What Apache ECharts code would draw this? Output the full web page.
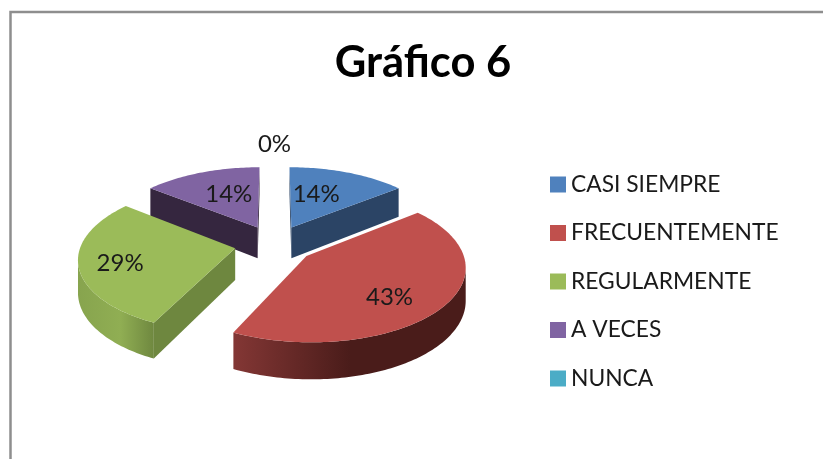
<!DOCTYPE html>
<html>
<head>
<meta charset="utf-8">
<style>html,body{margin:0;padding:0;background:#fff}#c{width:823px;height:459px}</style>
<script src="https://cdn.jsdelivr.net/npm/echarts@6/dist/echarts.min.js"></script>
</head>
<body>
<div id="c"></div>
<script>
// DATA
var categories = ['CASI SIEMPRE', 'FRECUENTEMENTE', 'REGULARMENTE', 'A VECES', 'NUNCA'];
var values = [1, 3, 2, 1, 0];
var chartTitle = 'Gráfico 6';

// STYLE
var topColors = ['#4F81BD', '#C0504D', '#9BBB59', '#8064A2', '#4BACC6'];
var wallColors = ['#2B4465', '#4A1C1A', '#6E873F', '#35263F', '#2B6A7C'];
var arcStops = [
  [['#2B4465', 0], ['#2B4465', 1]],
  [['#843735', 0], ['#4A1C1A', 1]],
  [['#87A44E', 0], ['#90AE53', 0.55], ['#6E873F', 1]],
  [['#35263F', 0], ['#35263F', 1]],
  [['#2B6A7C', 0], ['#2B6A7C', 1]]
];
var arcGradientSpan = [[0, 1], [232, 350], [78, 155], [0, 1], [0, 1]];
var stacking = [2, 4, 3, 1, 5];
var labelReach = [0.5, 0.72, 0.72, 0.5, 1.43];
var labelShift = [[-5, -4], [-13, 6], [-3, 3], [1, -4], [0, 0]];

// 3D projection of the pie plane
var view = {cx: 274.5, cy: 244, a: 154, b: 72, p: 0.128, explode: 0.26, depth: 31.5};
function project(u, v, lowered) {
  var w = 1 - view.p * v;
  return [
    view.cx + view.a * u / w,
    view.cy + view.b * v / w + (lowered ? view.depth / w : 0)
  ];
}

var total = values.reduce(function (s, x) { return s + x; }, 0);
function sliceAngles(i) {
  var before = 0;
  for (var k = 0; k < i; k++) before += values[k];
  var a0 = before / total * Math.PI * 2;
  return [a0, a0 + values[i] / total * Math.PI * 2];
}

function renderSlice(i, api) {
  var value = api.value(0);
  var ang = sliceAngles(i);
  var mid = (ang[0] + ang[1]) / 2;
  var ou = view.explode * Math.sin(mid), ov = -view.explode * Math.cos(mid);
  function pt(theta, r, lowered) {
    return project(ou + r * Math.sin(theta), ov - r * Math.cos(theta), lowered);
  }
  var children = [];
  if (value > 0) {
    var steps = Math.max(8, Math.ceil((ang[1] - ang[0]) / 0.02));
    var thetas = [];
    for (var s = 0; s <= steps; s++) thetas.push(ang[0] + (ang[1] - ang[0]) * s / steps);

    var apex = pt(0, 0, false), apexLow = pt(0, 0, true);
    var first = pt(ang[0], 1, false), last = pt(ang[1], 1, false);
    // radial walls, visible only when they run right to left in clockwise order
    if (first[0] < apex[0] - 0.5) {
      children.push({type: 'polygon', shape: {points: [apex, first, pt(ang[0], 1, true), apexLow]},
        style: {fill: wallColors[i]}});
    }
    if (apex[0] < last[0] - 0.5) {
      children.push({type: 'polygon', shape: {points: [last, apex, apexLow, pt(ang[1], 1, true)]},
        style: {fill: wallColors[i]}});
    }
    // outer rim wall, on the part facing the viewer
    var rimTop = [], rimLow = [];
    for (var t = 0; t < thetas.length; t++) {
      var p0 = pt(thetas[t], 1, false);
      var pPrev = t > 0 ? pt(thetas[t - 1], 1, false) : null;
      var pNext = t < steps ? pt(thetas[t + 1], 1, false) : null;
      var going = pNext ? pNext[0] - p0[0] : p0[0] - pPrev[0];
      if (going < 0) { rimTop.push(p0); rimLow.push(pt(thetas[t], 1, true)); }
    }
    if (rimTop.length > 1) {
      var span = arcGradientSpan[i];
      children.push({type: 'polygon', shape: {points: rimTop.concat(rimLow.reverse())},
        style: {fill: new echarts.graphic.LinearGradient(span[0], 0, span[1], 0,
          arcStops[i].map(function (st) { return {offset: st[1], color: st[0]}; }), true)}});
    }
    // top face
    var face = [apex];
    for (var q = 0; q < thetas.length; q++) face.push(pt(thetas[q], 1, false));
    children.push({type: 'polygon', shape: {points: face}, style: {fill: topColors[i]}});
  }
  var lp = pt(mid % (Math.PI * 2), labelReach[i], false);
  children.push({type: 'text', z2: 10, style: {
    x: lp[0] + labelShift[i][0], y: lp[1] + labelShift[i][1],
    text: Math.round(value / total * 100) + '%',
    fill: '#1a1a1a', font: '24px Lato', align: 'center', verticalAlign: 'middle'
  }});
  return {type: 'group', children: children};
}

var chart = echarts.init(document.getElementById('c'), null, {renderer: 'canvas'});
chart.setOption({
  animation: false,
  backgroundColor: '#ffffff',
  title: {
    text: chartTitle, left: 418, top: 36, textAlign: 'center',
    textStyle: {fontFamily: 'Lato', fontWeight: 'bold', fontSize: 43.5, color: '#000000'}
  },
  legend: {
    orient: 'vertical', left: 545, top: 168, icon: 'rect',
    itemWidth: 16, itemHeight: 16, itemGap: 25.5, selectedMode: false,
    textStyle: {fontFamily: 'Lato', fontSize: 22.8, color: '#1a1a1a'},
    data: categories
  },
  graphic: [{
    type: 'polyline', z: 0,
    shape: {points: [[10.5, 459], [10.5, 12], [823, 12]]},
    style: {stroke: '#8e8e8e', lineWidth: 2.5, fill: null}
  }],
  series: categories.map(function (name, i) {
    return {
      type: 'custom', name: name, coordinateSystem: 'none', z: stacking[i],
      itemStyle: {color: topColors[i]},
      data: [[values[i]]],
      renderItem: function (params, api) { return renderSlice(i, api); }
    };
  })
});
</script>
</body>
</html>
